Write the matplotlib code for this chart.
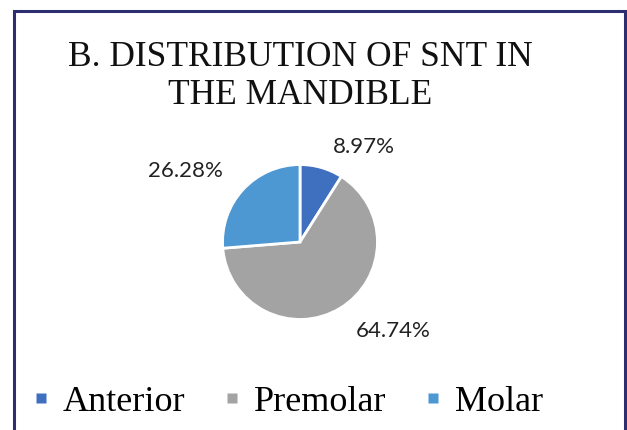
import numpy as np
import matplotlib
matplotlib.use("Agg")
import matplotlib.pyplot as plt
from matplotlib.patches import Rectangle
from matplotlib.lines import Line2D

# data
categories = ["Anterior", "Premolar", "Molar"]
shares = [8.97, 64.74, 26.28]
colors = ["#3f70c0", "#a3a3a3", "#4d97d3"]
title = "B. DISTRIBUTION OF SNT IN\nTHE MANDIBLE"

# where each % label sits: (distance in radii, shift in degrees from slice middle)
label_place = [(1.48, -18), (1.66, 15), (1.74, 11)]

W, H = 627, 430
fig = plt.figure(figsize=(W / 100, H / 100), dpi=100)
fig.patch.set_facecolor("white")

# frame around the chart (runs off the bottom)
fig.patches.append(Rectangle((14 / W, -0.05), (625 - 14) / W, 1.05 - 11 / H,
                             transform=fig.transFigure, fill=False,
                             edgecolor="#2c2e6f", linewidth=2.2))

cx, cy, r = 300, 242, 79
ax = fig.add_axes([(cx - r) / W, (H - cy - r) / H, 2 * r / W, 2 * r / H])
wedges, _ = ax.pie(shares, colors=colors, startangle=90, counterclock=False,
                   wedgeprops=dict(edgecolor="white", linewidth=2), radius=1)
ax.set_xlim(-1.02, 1.02)
ax.set_ylim(-1.02, 1.02)
ax.set_aspect("equal")
ax.axis("off")

for w, v, (d, shift) in zip(wedges, shares, label_place):
    mid = np.deg2rad((w.theta1 + w.theta2) / 2 + shift)
    ax.text(d * np.cos(mid), d * np.sin(mid), f"{v:.2f}%", ha="center",
            va="center", fontsize=16, family="Lato", color="#222222",
            clip_on=False)

fig.text(cx / W, 1 - 77 / H, title, ha="center", va="center",
         multialignment="center", fontsize=25.5, family="Liberation Serif",
         linespacing=1.2, color="#111111")

handles = [Line2D([], [], linestyle="none", marker="s", markersize=6.5,
                  markerfacecolor=c, markeredgecolor="none") for c in colors]
fig.legend(handles, categories, loc="center", bbox_to_anchor=(289 / W, 1 - 402 / H),
           ncol=3, frameon=False, prop=dict(family="Liberation Serif", size=26),
           handlelength=0.3, handletextpad=0.45,
           columnspacing=1.15, borderaxespad=0)

fig.savefig("out.png", dpi=100)
